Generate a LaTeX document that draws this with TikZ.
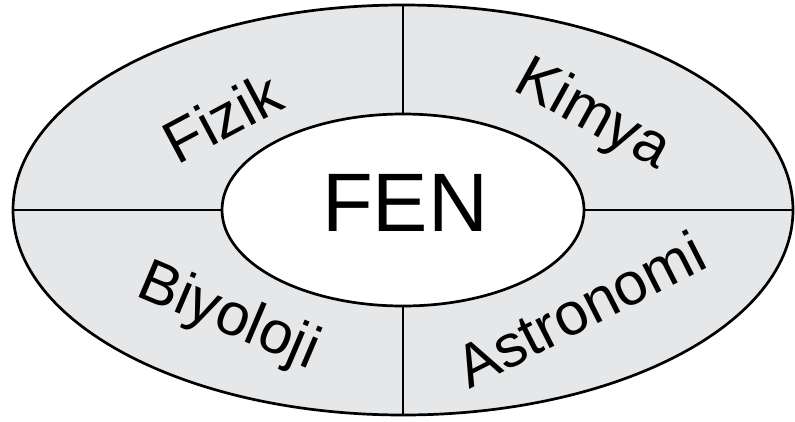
\documentclass[tikz,border=0pt]{standalone}
\usepackage{fontspec}
\setmainfont{Liberation Sans}
\usetikzlibrary{shapes.geometric}
\definecolor{ringgray}{HTML}{E6E7E9}
\begin{document}
\begin{tikzpicture}[x=1pt,y=-1pt,
  ring/.style={ellipse,draw=black,line width=2.7pt,inner sep=0pt,outer sep=0pt},
  divider/.style={draw=black,line width=2.7pt},
  field/.style={font=\fontsize{60}{60}\selectfont,inner sep=0pt},
  core/.style={font=\fontsize{83}{83}\selectfont,inner sep=0pt}]
  \useasboundingbox (0,0) rectangle (795,421);
  % outer ring and inner core
  \node[ring,fill=ringgray,minimum width=780pt,minimum height=410pt] (outer) at (403,210) {};
  \node[ring,fill=white,minimum width=362pt,minimum height=192pt] (inner) at (403,210) {};
  % quadrant dividers
  \draw[divider] (outer.north) -- (inner.north);
  \draw[divider] (inner.south) -- (outer.south);
  \draw[divider] (outer.west) -- (inner.west);
  \draw[divider] (inner.east) -- (outer.east);
  % labels
  \node[core] (fen) at (405,203) {FEN};
  \node[field,rotate=28] (fizik) at (222,117) {Fizik};
  \node[field,rotate=-29] (kimya) at (592,116) {Kimya};
  \node[field,rotate=-23] (biyoloji) at (228,318) {Biyoloji};
  \node[field,rotate=27] (astronomi) at (580,309) {Astronomi};
\end{tikzpicture}
\end{document}
